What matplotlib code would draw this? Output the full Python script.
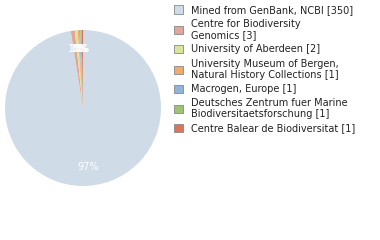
import matplotlib
matplotlib.use("Agg")
import matplotlib.pyplot as plt

# data
labels = ["Mined from GenBank, NCBI [350]",
          "Centre for Biodiversity\nGenomics [3]",
          "University of Aberdeen [2]",
          "University Museum of Bergen,\nNatural History Collections [1]",
          "Macrogen, Europe [1]",
          "Deutsches Zentrum fuer Marine\nBiodiversitaetsforschung [1]",
          "Centre Balear de Biodiversitat [1]"]
counts = [350, 3, 2, 1, 1, 1, 1]
colors = ["#cfdbe6", "#e3a598", "#d9e49c", "#f2aa6e", "#93b4d9", "#9cc474", "#de735a"]

fig = plt.figure(figsize=(3.8, 2.4), dpi=100)

# pie
ax = fig.add_axes([5/380, 54/240, 156/380, 156/240])
wedges, texts, autotexts = ax.pie(counts, colors=colors, startangle=90, counterclock=False,
                                  autopct="%1.0f%%", pctdistance=0.76,
                                  wedgeprops=dict(linewidth=0))
for t in autotexts:
    t.set_color("white")
    t.set_fontsize(7)
ax.set_xlim(-1, 1)
ax.set_ylim(-1, 1)
ax.set_aspect("equal")

# legend
leg = fig.legend(wedges, labels, loc="upper left", bbox_to_anchor=(169/380, 1.0),
                 frameon=False, fontsize=7, handlelength=0.9, handleheight=0.9,
                 handletextpad=0.9, labelspacing=0.45, borderaxespad=0.1)
for h in leg.legend_handles:
    h.set_edgecolor("#888888")
    h.set_linewidth(0.6)
for t in leg.get_texts():
    t.set_color("#222222")
    t.set_linespacing(1.1)

fig.savefig("out.png", dpi=100)
